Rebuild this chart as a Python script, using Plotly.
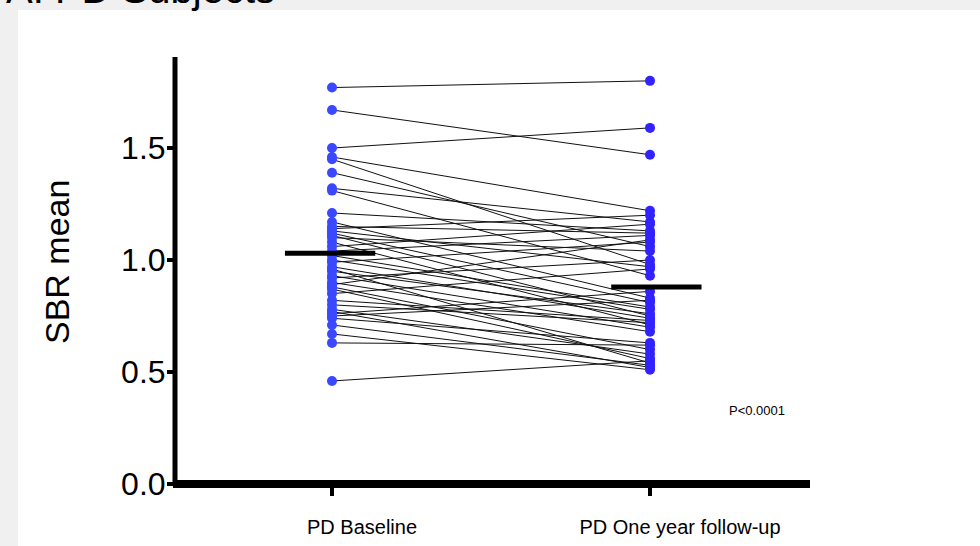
import plotly.graph_objects as go

# ---- data ----
groups = ["PD Baseline", "PD One year follow-up"]
baseline = [1.77, 1.67, 1.50, 1.46, 1.45, 1.39, 1.32, 1.31, 1.21, 1.17, 1.14, 1.12,
            1.10, 1.08, 1.04, 1.02, 0.99, 0.97, 0.95, 0.92, 0.90, 0.88, 0.85, 0.80,
            0.78, 0.76, 0.74, 0.71, 0.67, 0.63, 0.46,
            1.15, 1.13, 1.11, 1.06, 1.00, 0.96, 0.93, 0.89, 0.87, 0.82, 0.77, 0.75]
followup = [1.80, 1.47, 1.59, 1.22, 0.98, 1.06, 1.17, 0.93, 1.13, 0.83, 1.20, 0.81,
            1.04, 0.71, 1.11, 0.79, 1.08, 0.74, 0.76, 1.00, 0.68, 0.60, 0.96, 0.72,
            0.58, 0.86, 0.63, 0.53, 0.51, 0.62, 0.55,
            1.12, 0.97, 0.75, 1.16, 0.78, 0.54, 0.70, 1.09, 0.56, 0.73, 0.52, 0.82]
group_means = [1.03, 0.88]
y_ticks = [0.0, 0.5, 1.0, 1.5]
y_tick_labels = ["0.0", "0.5", "1.0", "1.5"]
p_text = "P<0.0001"
y_title = "SBR mean"
title_text = "A. PD Subjects"

# ---- geometry / style ----
W, H = 980, 546
ML, MT = 175, 58
pw, ph = 635, 426
MR = W - ML - pw
MB = H - MT - ph
x_range = [-0.4937, 1.5031]
y_range = [0, 1.902]
FONT = "Liberation Sans, Arial, sans-serif"
PAGE_GREY = "#f0f0f0"


def px_x(p):
    return (p - ML) / pw


def px_y(p):
    return (MT + ph - p) / ph


fig = go.Figure()

# paired connecting lines
lx, ly = [], []
for b, f in zip(baseline, followup):
    lx += [0, 1, None]
    ly += [b, f, None]
fig.add_trace(go.Scatter(x=lx, y=ly, mode="lines",
                         line=dict(color="#111111", width=1), hoverinfo="skip",
                         showlegend=False))

# points
fig.add_trace(go.Scatter(x=[0] * len(baseline), y=baseline, mode="markers",
                         marker=dict(color="#3a48ff", size=10, line=dict(width=0)),
                         showlegend=False))
fig.add_trace(go.Scatter(x=[1] * len(followup), y=followup, mode="markers",
                         marker=dict(color="#3122ff", size=10, line=dict(width=0)),
                         showlegend=False))

# mean bars
bar_half = 0.142
bar_shift = [-0.006, 0.02]
for i, m in enumerate(group_means):
    c = i + bar_shift[i]
    fig.add_trace(go.Scatter(x=[c - bar_half, c + bar_half], y=[m, m], mode="lines",
                             line=dict(color="black", width=5), hoverinfo="skip",
                             showlegend=False))

shapes = [
    # white panel on grey page
    dict(type="rect", xref="paper", yref="paper", x0=px_x(18), x1=px_x(W + 20),
         y0=px_y(H + 20), y1=px_y(10), fillcolor="white", line=dict(width=0), layer="below"),
    # y axis line
    dict(type="line", xref="paper", yref="paper", x0=0, x1=0, y0=px_y(484), y1=px_y(57),
         line=dict(color="black", width=5), layer="above"),
    # x axis line
    dict(type="line", xref="paper", yref="paper", x0=px_x(173), x1=px_x(810), y0=0, y1=0,
         line=dict(color="black", width=8), layer="above"),
]

annotations = [
    dict(text=y_title, xref="paper", yref="paper", x=px_x(57), y=px_y(262),
         textangle=-90, showarrow=False, xanchor="center", yanchor="middle",
         font=dict(family=FONT, size=34, color="black")),
    dict(text=p_text, xref="x", yref="y", x=1.336, y=0.330, showarrow=False,
         xanchor="center", yanchor="middle",
         font=dict(family=FONT, size=13, color="black")),
    dict(text=title_text, xref="paper", yref="paper", x=px_x(277), y=px_y(-11),
         showarrow=False, xanchor="right", yanchor="middle",
         font=dict(family=FONT, size=40, color="black")),
]

fig.update_layout(
    width=W, height=H,
    margin=dict(l=ML, r=MR, t=MT, b=MB, pad=0, autoexpand=False),
    paper_bgcolor=PAGE_GREY, plot_bgcolor="white",
    shapes=shapes, annotations=annotations,
    xaxis=dict(range=x_range, tickmode="array", tickvals=[0, 1], ticktext=groups,
               showgrid=False, zeroline=False, showline=False, automargin=False,
               ticks="outside", ticklen=11, tickwidth=4, tickcolor="black",
               ticklabelshift=30, ticklabelstandoff=14,
               tickfont=dict(family=FONT, size=20, color="black"), fixedrange=True),
    yaxis=dict(range=y_range, tickmode="array", tickvals=y_ticks, ticktext=y_tick_labels,
               showgrid=False, zeroline=False, showline=False, automargin=False,
               ticks="outside", ticklen=7, tickwidth=4, tickcolor="black",
               ticklabelstandoff=-5,
               tickfont=dict(family=FONT, size=32, color="black"), fixedrange=True),
    showlegend=False,
)

fig.write_html(
    "out.html",
    config={"displayModeBar": False},
    post_script="document.body.style.margin='0px';"
                "document.body.style.background='" + PAGE_GREY + "';",
)
